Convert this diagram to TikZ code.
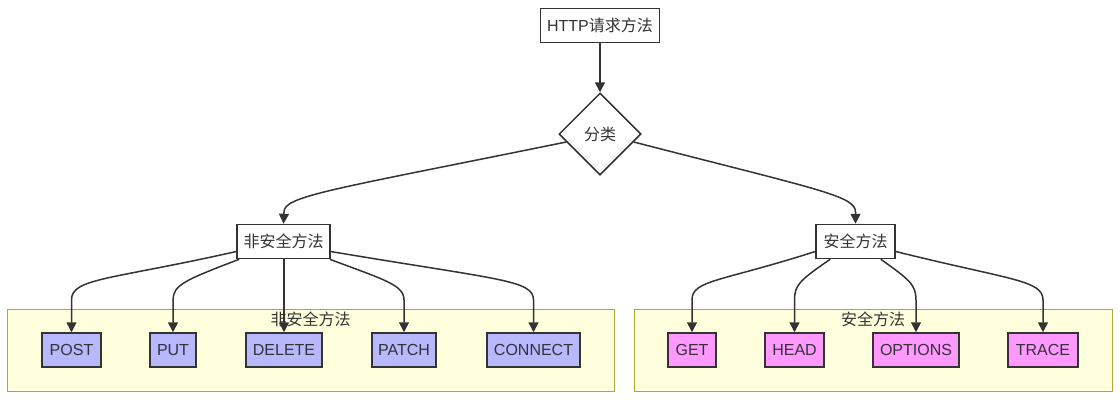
\documentclass[tikz,border=0pt]{standalone}
\usepackage{fontspec}
\setmainfont{Liberation Sans}
\newfontfamily\cjk{Noto Sans CJK SC}
\usetikzlibrary{shapes.geometric,arrows.meta}
\definecolor{ink}{HTML}{333333}
\definecolor{unsafefill}{HTML}{B8B8FF}
\definecolor{safefill}{HTML}{FF99FF}
\definecolor{clusterfill}{HTML}{FFFFDE}
\definecolor{clusterline}{HTML}{AAAA33}
\tikzset{
  base/.style={draw=ink, line width=1.5pt, text=ink, font=\fontsize{16}{18}\selectfont, inner sep=0pt, minimum height=34pt},
  plainbox/.style={base, fill=white},
  unsafebox/.style={base, fill=unsafefill},
  safebox/.style={base, fill=safefill},
  decide/.style={draw=ink, line width=1.5pt, fill=white, text=ink, diamond, aspect=1, minimum width=82pt, minimum height=82pt, inner sep=0pt, font=\fontsize{16}{18}\selectfont},
  cluster/.style={draw=clusterline, fill=clusterfill, line width=1pt},
  clusterlabel/.style={text=ink, font=\fontsize{16}{18}\selectfont\cjk},
  edge/.style={draw=ink, line width=1.5pt, -{Triangle[length=10pt,width=10pt]}},
}
\begin{document}
\begin{tikzpicture}[x=1pt,y=-1pt]
\useasboundingbox (0,0) rectangle (1120,400);
% clusters
\node[cluster, minimum width=607pt, minimum height=82pt, inner sep=0pt] (cl) at (310.5,350) {};
\node[cluster, minimum width=478pt, minimum height=82pt, inner sep=0pt] (cr) at (873,350) {};
\node[clusterlabel] (cll) at (310.5,319) {非安全方法};
\node[clusterlabel] (crl) at (873,319) {安全方法};
% main nodes
\node[plainbox, minimum width=119pt] (http) at (600,25.5) {HTTP{\cjk 请求方法}};
\node[decide] (cat) at (600,134) {\cjk 分类};
\node[plainbox, minimum width=93pt] (ns) at (283.5,241.5) {\cjk 非安全方法};
\node[plainbox, minimum width=79pt] (sf) at (855.5,241.5) {\cjk 安全方法};
% unsafe methods
\node[unsafebox, minimum width=59pt] (post) at (71.5,350) {POST};
\node[unsafebox, minimum width=46pt] (put) at (173,350) {PUT};
\node[unsafebox, minimum width=76pt] (delete) at (284,350) {DELETE};
\node[unsafebox, minimum width=64pt] (patch) at (404,350) {PATCH};
\node[unsafebox, minimum width=93pt] (connect) at (533.5,350) {CONNECT};
% safe methods
\node[safebox, minimum width=48pt] (get) at (692,350) {GET};
\node[safebox, minimum width=59pt] (head) at (794.5,350) {HEAD};
\node[safebox, minimum width=86pt] (options) at (916,350) {OPTIONS};
\node[safebox, minimum width=70pt] (trace) at (1043,350) {TRACE};
% edges
\draw[edge] (http.south) -- (cat.north);
\draw[edge] (cat.west) ++(8,8) .. controls (330,190) and (284,196) .. (284,212) -- (ns.north);
\draw[edge] (cat.east) ++(-8,8) .. controls (820,190) and (855.5,196) .. (855.5,212) -- (sf.north);
\draw[edge] ([yshift=-10pt]ns.west) .. controls (110,280) and (71.5,278) .. (71.5,300) -- (post.north);
\draw[edge] ([xshift=3pt]ns.south west) .. controls (185,280) and (173,285) .. (173,300) -- (put.north);
\draw[edge] ([xshift=0.5pt]ns.south) -- (delete.north);
\draw[edge] ([xshift=-1pt]ns.south east) .. controls (385,280) and (404,285) .. (404,300) -- (patch.north);
\draw[edge] ([yshift=-10pt]ns.east) .. controls (500,280) and (533.5,280) .. (533.5,300) -- (connect.north);
\draw[edge] ([yshift=-10pt]sf.west) .. controls (720,282) and (692,280) .. (692,300) -- (get.north);
\draw[edge] ([xshift=15pt]sf.south west) .. controls (800,280) and (794.5,285) .. (794.5,300) -- (head.north);
\draw[edge] ([xshift=-15pt]sf.south east) .. controls (910,280) and (916,285) .. (916,300) -- (options.north);
\draw[edge] ([yshift=-10pt]sf.east) .. controls (1010,280) and (1043,280) .. (1043,300) -- (trace.north);
\end{tikzpicture}
\end{document}
